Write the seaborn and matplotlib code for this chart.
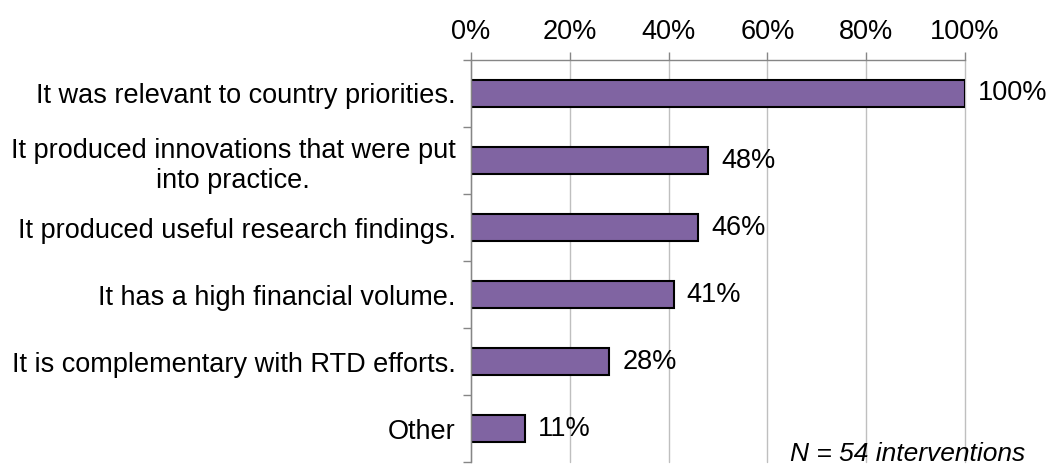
import matplotlib
matplotlib.use("Agg")
import matplotlib.pyplot as plt
import seaborn as sns
import pandas as pd
from matplotlib.ticker import FixedLocator

categories = [
    "It was relevant to country priorities.",
    "It produced innovations that were put\ninto practice.",
    "It produced useful research findings.",
    "It has a high financial volume.",
    "It is complementary with RTD efforts.",
    "Other",
]
values = [100, 48, 46, 41, 28, 11]
x_ticks = [0, 20, 40, 60, 80, 100]
note = "N = 54 interventions"

sns.set_theme(style="white")
plt.rcParams["font.family"] = ["Liberation Sans", "DejaVu Sans"]
plt.rcParams["text.color"] = "black"

FS = 19.5

df = pd.DataFrame({"category": categories, "value": values})

fig = plt.figure(figsize=(10.5, 4.68), dpi=100)
ax = fig.add_axes([0.4486, 0.0128, 0.4705, 0.859])

sns.barplot(data=df, y="category", x="value", orient="h", color="#8064A2",
            saturation=1, width=0.4, edgecolor="black", linewidth=1.5, ax=ax)

ax.set_xlim(0, 100)
ax.set_ylim(len(categories) - 0.5, -0.5)
ax.set_xlabel("")
ax.set_ylabel("")

# percentage axis on top
ax.xaxis.set_ticks_position("top")
ax.xaxis.set_label_position("top")
ax.set_xticks(x_ticks)
ax.set_xticklabels([f"{t}%" for t in x_ticks])
ax.tick_params(axis="x", which="major", direction="out", length=6, width=1,
               colors="#868686", labelsize=FS, pad=5, labelcolor="black")
ax.grid(axis="x", color="#BFBFBF", linewidth=1)
for gl in ax.get_xgridlines():
    gl.set_clip_on(False)
ax.set_axisbelow(True)

# category labels and separator ticks
ax.tick_params(axis="y", which="major", length=0, labelsize=FS, pad=11,
               labelcolor="black")
for lab in ax.get_yticklabels():
    lab.set_horizontalalignment("right")
    lab.set_multialignment("center")
ax.yaxis.set_minor_locator(FixedLocator([i - 0.5 for i in range(len(categories) + 1)]))
ax.tick_params(axis="y", which="minor", direction="out", length=6, width=1,
               color="#868686", left=True)

for side in ["right", "bottom"]:
    ax.spines[side].set_visible(False)
for side in ["left", "top"]:
    ax.spines[side].set_color("#868686")
    ax.spines[side].set_linewidth(1)

for i, v in enumerate(values):
    ax.text(v + 2.6, i, f"{v}%", va="center", ha="left", fontsize=FS)

fig.text(0.976, 0.03, note, ha="right", va="center", fontsize=19, style="italic")

fig.savefig("out.png", dpi=100)
